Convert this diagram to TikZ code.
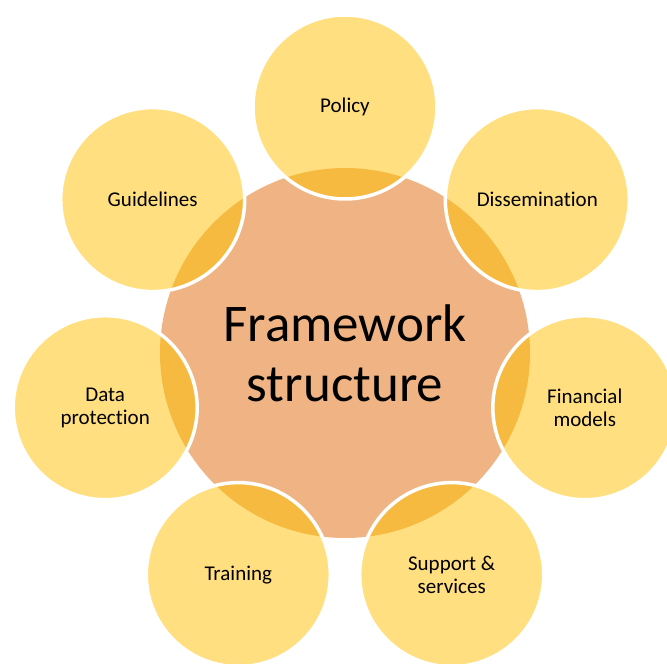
\documentclass[tikz,border=0pt]{standalone}
\usepackage{fontspec}
\setmainfont{Carlito}[Ligatures=NoCommon]
\usepackage{xcolor}
\usepackage{tikz}
\usetikzlibrary{positioning}

\definecolor{petalyellow}{HTML}{FFC000}
\definecolor{hubpeach}{HTML}{F0B484}

\begin{document}
\begin{tikzpicture}[
  x=1pt, y=1pt,
  hub/.style={circle, fill=hubpeach, minimum size=370pt, inner sep=0pt,
              align=center, font=\fontsize{53}{60}\selectfont},
  petal/.style={circle, fill=petalyellow, fill opacity=0.5, text opacity=1,
                draw=white, line width=3.5pt, minimum size=184pt, inner sep=0pt,
                align=center, font=\fontsize{21}{23}\selectfont}]
\useasboundingbox (0,0) rectangle (667,664);
\clip (0,0) rectangle (667,664);
\node[hub] (hub) at (345,311) {Framework\\structure};
\node[petal] (policy) at (345,557) {Policy};
\node[petal] (dissem) at (537.3,464.4) {Dissemination};
\node[petal] (finance) at (584.8,256.3) {Financial\\models};
\node[petal] (support) at (451.7,89.4) {Support \&\\services};
\node[petal] (training) at (238.3,89.4) {Training};
\node[petal] (dataprot) at (105.2,256.3) {Data\\protection};
\node[petal] (guide) at (152.7,464.4) {Guidelines};
\end{tikzpicture}
\end{document}
